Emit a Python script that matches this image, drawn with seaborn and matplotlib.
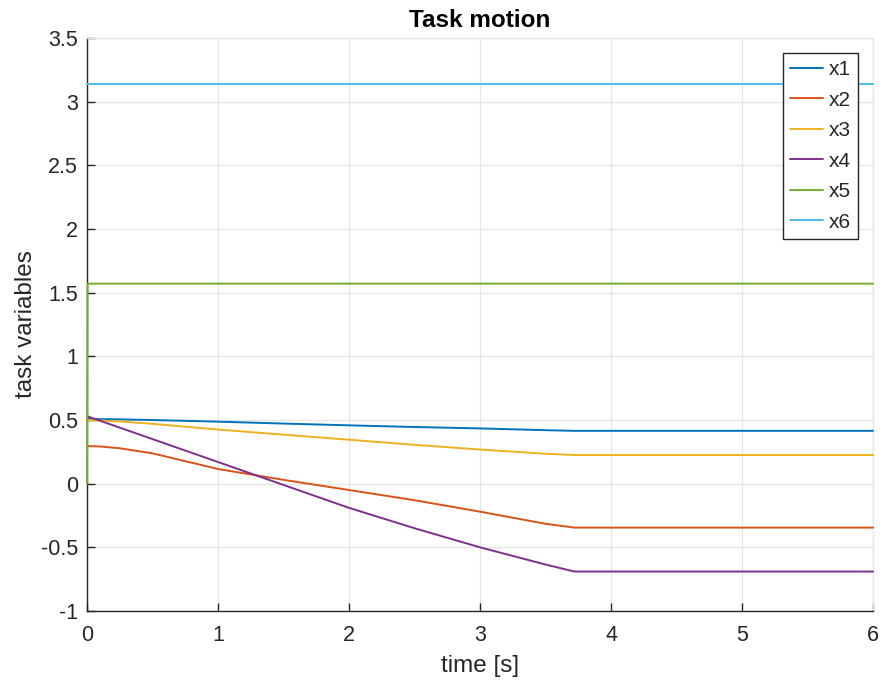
import numpy as np
import pandas as pd
import matplotlib
matplotlib.use("Agg")
import matplotlib.pyplot as plt
import seaborn as sns

# Sample times of the task trajectory [s]
t_move = [0.0, 0.1, 0.25, 0.5, 1.0, 1.5, 2.0, 2.5, 3.0, 3.5, 3.72, 6.0]
x1 = [0.508, 0.507, 0.505, 0.500, 0.487, 0.472, 0.458, 0.445, 0.434, 0.420, 0.415, 0.415]
x2 = [0.295, 0.292, 0.278, 0.238, 0.115, 0.030, -0.050, -0.130, -0.220, -0.315, -0.345, -0.345]
x3 = [0.500, 0.496, 0.488, 0.470, 0.425, 0.385, 0.345, 0.305, 0.268, 0.235, 0.225, 0.225]
x4 = [0.530, 0.494, 0.440, 0.350, 0.170, -0.010, -0.190, -0.350, -0.500, -0.635, -0.690, -0.690]
t_step = [0.0, 0.004, 6.0]
x5 = [0.0, 1.5708, 1.5708]
t_const = [0.0, 6.0]
x6 = [3.1416, 3.1416]

names = ["x1", "x2", "x3", "x4", "x5", "x6"]
colors = ["#0072BD", "#D95319", "#EDB120", "#7E2F8E", "#77AC30", "#4DBEEE"]

frames = []
for name, t, v in [("x1", t_move, x1), ("x2", t_move, x2), ("x3", t_move, x3),
                   ("x4", t_move, x4), ("x5", t_step, x5), ("x6", t_const, x6)]:
    frames.append(pd.DataFrame({"time": t, "value": v, "var": name}))
df = pd.concat(frames, ignore_index=True)

sns.set_theme(style="white")
plt.rcParams["font.family"] = ["Liberation Sans", "DejaVu Sans"]
text_col = "#262626"

fig = plt.figure(figsize=(8.85, 6.88), dpi=100)
ax = fig.add_axes([87 / 885, 1 - 611 / 688, (873 - 87) / 885, (611 - 38) / 688])

sns.lineplot(data=df, x="time", y="value", hue="var", hue_order=names,
             palette=colors, estimator=None, sort=False, linewidth=1.4, ax=ax)
for ln in ax.get_lines():
    ln.set_zorder(3)
    ln.set_clip_on(False)

ax.set_xlim(0, 6)
ax.set_ylim(-1, 3.5)
ax.set_xticks(np.arange(0, 7, 1))
ax.set_yticks(np.arange(-1, 3.51, 0.5))
ax.set_xticklabels([f"{v:g}" for v in np.arange(0, 7, 1)])
ax.set_yticklabels([f"{v:g}" for v in np.arange(-1, 3.51, 0.5)])
ax.grid(True, color="#e6e6e6", linewidth=1.0)
ax.set_axisbelow(True)

for side in ["top", "right"]:
    ax.spines[side].set_color("#e6e6e6")
    ax.spines[side].set_linewidth(1.0)
for side in ["left", "bottom"]:
    ax.spines[side].set_color(text_col)
    ax.spines[side].set_linewidth(1.0)

ax.tick_params(axis="both", direction="in", length=6, width=1.0,
               colors=text_col, labelsize=15.5,
               bottom=True, left=True, top=False, right=False)
ax.tick_params(axis="x", pad=10)
ax.tick_params(axis="y", pad=6.5)

ax.set_xlabel("time [s]", fontsize=17.5, color=text_col, labelpad=6.5)
ax.set_ylabel("task variables", fontsize=17.5, color=text_col, labelpad=2.5)
ax.set_title("Task motion", fontsize=17.5, fontweight="bold", color="black", pad=8)

leg = ax.legend(loc="upper right", fontsize=15, frameon=True, fancybox=False,
                handlelength=1.6, handletextpad=0.25, borderpad=0.35,
                labelspacing=0.55, borderaxespad=0.0)
leg.set_bbox_to_anchor((858 / 885, 1 - 53 / 688), transform=fig.transFigure)
leg.get_frame().set_edgecolor("#262626")
leg.get_frame().set_linewidth(1.0)
leg.get_frame().set_facecolor("white")
leg.get_frame().set_alpha(1.0)
for line in leg.get_lines():
    line.set_linewidth(1.4)

fig.savefig("out.png", dpi=100)
